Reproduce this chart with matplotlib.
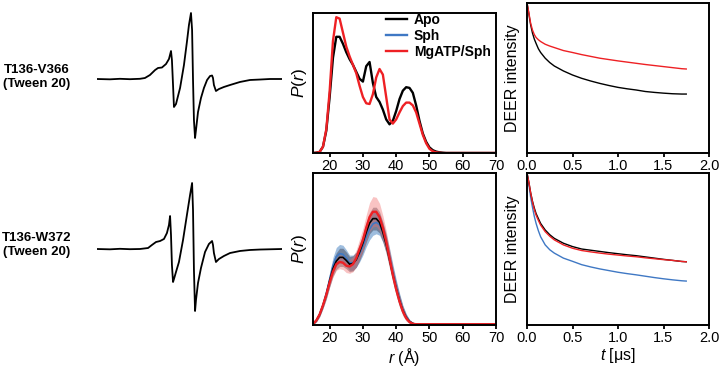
import matplotlib
matplotlib.use('Agg')
from matplotlib import pyplot as plt
import numpy as np

plt.rcParams['font.family'] = ['Liberation Sans', 'DejaVu Sans']
plt.rcParams['mathtext.fontset'] = 'custom'
plt.rcParams['mathtext.rm'] = 'Liberation Sans'
plt.rcParams['mathtext.it'] = 'Liberation Sans:italic'

# ---- CW EPR spectra (field in arbitrary units, derivative intensity) ----
epr_labels = ['T136-V366\n(Tween 20)', 'T136-W372\n(Tween 20)']

epr1_b = [0, 7.0, 12.4, 17.8, 23.2, 25.9, 28.6, 31.4, 33.0, 35.1, 37.3, 38.9, 40.0, 40.5,
          41.1, 41.6, 42.7, 44.9, 47.0, 48.6, 49.7, 50.8, 51.4, 51.9, 52.4, 53.0, 53.5,
          54.6, 56.2, 57.8, 59.5, 61.1, 62.2, 62.7, 63.2, 64.3, 65.9, 68.6, 71.9, 77.3,
          82.7, 88.1, 93.5, 100]
epr1_i = [0, -0.005, 0.003, -0.003, 0.003, 0.015, 0.06, 0.136, 0.167, 0.174, 0.227, 0.303,
          0.424, 0.288, -0.091, -0.424, -0.379, -0.136, 0.212, 0.561, 0.818, 1.0, 0.742,
          -0.015, -0.621, -0.894, -0.773, -0.5, -0.288, -0.136, -0.015, 0.045, 0.053,
          0.015, -0.091, -0.182, -0.152, -0.121, -0.091, -0.045, -0.015, -0.008, 0, 0]

epr2_b = [0, 7.0, 12.4, 17.8, 23.2, 27.6, 29.7, 31.9, 34.1, 36.2, 37.8, 38.9, 39.5, 40.0,
          40.5, 41.1, 41.6, 42.7, 44.3, 46.5, 48.6, 50.3, 51.4, 51.9, 52.4, 53.0, 53.5,
          54.6, 56.2, 58.4, 60.5, 62.2, 62.7, 63.2, 64.3, 65.9, 68.6, 71.9, 77.3, 82.7,
          88.1, 100]
epr2_i = [0, -0.005, 0.003, -0.003, 0, 0.015, 0.061, 0.106, 0.121, 0.152, 0.242, 0.364,
          0.5, 0.212, -0.242, -0.5, -0.455, -0.348, -0.197, 0.136, 0.515, 0.818, 1.0,
          0.591, -0.318, -0.939, -0.773, -0.515, -0.288, -0.045, 0.076, 0.121, 0.061,
          -0.061, -0.197, -0.152, -0.106, -0.061, -0.03, -0.015, -0.008, 0]

# ---- distance distributions P(r) ----
r_top = list(range(15, 56)) + [60, 70]
p_apo_top = [0, 0.002, 0.008, 0.045, 0.16, 0.40, 0.68, 0.83, 0.83, 0.78, 0.72, 0.67, 0.63,
             0.58, 0.53, 0.51, 0.62, 0.65, 0.50, 0.40, 0.365, 0.31, 0.24, 0.205, 0.23, 0.30,
             0.385, 0.445, 0.47, 0.465, 0.43, 0.34, 0.23, 0.14, 0.08, 0.04, 0.02, 0.01,
             0.005, 0.002, 0, 0, 0]
p_mg_top = [0, 0.002, 0.008, 0.045, 0.17, 0.44, 0.80, 0.97, 0.96, 0.86, 0.76, 0.69, 0.63,
            0.57, 0.48, 0.40, 0.355, 0.35, 0.42, 0.54, 0.60, 0.56, 0.40, 0.24, 0.21, 0.24,
            0.29, 0.335, 0.36, 0.36, 0.34, 0.29, 0.21, 0.13, 0.07, 0.03, 0.012, 0.005,
            0.002, 0, 0, 0, 0]

r_bot = list(range(15, 47)) + [50, 60, 70]
p_apo_bot = [0.007, 0.03, 0.07, 0.13, 0.20, 0.29, 0.37, 0.42, 0.445, 0.445, 0.425, 0.40,
             0.405, 0.43, 0.48, 0.54, 0.61, 0.67, 0.70, 0.70, 0.675, 0.61, 0.53, 0.43, 0.33,
             0.24, 0.16, 0.095, 0.05, 0.022, 0.01, 0.005, 0.005, 0.005, 0.005]
p_sph_bot = [0.007, 0.03, 0.07, 0.13, 0.21, 0.30, 0.39, 0.45, 0.47, 0.465, 0.44, 0.41,
             0.41, 0.43, 0.47, 0.52, 0.58, 0.63, 0.665, 0.675, 0.66, 0.61, 0.54, 0.45, 0.35,
             0.255, 0.17, 0.10, 0.055, 0.025, 0.01, 0.005, 0.005, 0.005, 0.005]
p_mg_bot = [0.007, 0.03, 0.07, 0.13, 0.20, 0.28, 0.35, 0.40, 0.415, 0.41, 0.39, 0.385,
            0.40, 0.44, 0.50, 0.56, 0.64, 0.71, 0.745, 0.745, 0.71, 0.64, 0.55, 0.44, 0.33,
            0.235, 0.155, 0.09, 0.045, 0.02, 0.008, 0.005, 0.005, 0.005, 0.005]
# half widths of the uncertainty bands
w_apo_bot = [0.005, 0.01, 0.015, 0.02, 0.03, 0.04, 0.05, 0.055, 0.06, 0.06, 0.055, 0.05,
             0.05, 0.05, 0.055, 0.06, 0.065, 0.07, 0.075, 0.075, 0.07, 0.065, 0.06, 0.055,
             0.05, 0.045, 0.04, 0.03, 0.02, 0.012, 0.008, 0.005, 0.005, 0.005, 0.005]
w_sph_bot = [0.005, 0.01, 0.015, 0.02, 0.03, 0.045, 0.055, 0.06, 0.06, 0.06, 0.055, 0.05,
             0.05, 0.05, 0.055, 0.06, 0.065, 0.07, 0.075, 0.075, 0.07, 0.065, 0.06, 0.055,
             0.05, 0.045, 0.04, 0.03, 0.02, 0.012, 0.008, 0.005, 0.005, 0.005, 0.005]
w_mg_bot = [0.005, 0.01, 0.015, 0.02, 0.025, 0.03, 0.035, 0.04, 0.045, 0.045, 0.045, 0.045,
            0.05, 0.055, 0.065, 0.075, 0.085, 0.095, 0.10, 0.095, 0.09, 0.08, 0.07, 0.06,
            0.05, 0.04, 0.035, 0.03, 0.02, 0.012, 0.008, 0.006, 0.006, 0.006, 0.006]

# ---- DEER traces ----
t = [0, 0.01, 0.02, 0.03, 0.04, 0.06, 0.08, 0.1, 0.125, 0.15, 0.2, 0.25, 0.3, 0.4, 0.5,
     0.6, 0.7, 0.8, 0.9, 1.0, 1.1, 1.2, 1.3, 1.4, 1.5, 1.6, 1.7, 1.75]
v_apo_top = [1.0, 0.965, 0.93, 0.89, 0.855, 0.80, 0.76, 0.73, 0.695, 0.67, 0.632, 0.603,
             0.58, 0.547, 0.52, 0.498, 0.48, 0.464, 0.45, 0.4375, 0.428, 0.42, 0.41, 0.404,
             0.399, 0.395, 0.393, 0.393]
v_mg_top = [1.0, 0.97, 0.935, 0.90, 0.865, 0.82, 0.79, 0.77, 0.755, 0.743, 0.725, 0.713,
            0.703, 0.683, 0.67, 0.656, 0.644, 0.632, 0.623, 0.614, 0.606, 0.598, 0.59,
            0.583, 0.576, 0.569, 0.562, 0.56]
v_apo_bot = [1.0, 0.97, 0.94, 0.905, 0.87, 0.815, 0.77, 0.733, 0.70, 0.668, 0.625, 0.594,
             0.57, 0.538, 0.516, 0.50, 0.492, 0.484, 0.476, 0.469, 0.462, 0.456, 0.448,
             0.44, 0.432, 0.425, 0.418, 0.416]
v_mg_bot = [1.0, 0.97, 0.94, 0.905, 0.87, 0.81, 0.76, 0.722, 0.688, 0.657, 0.614, 0.584,
            0.56, 0.527, 0.505, 0.49, 0.481, 0.473, 0.466, 0.46, 0.454, 0.449, 0.442, 0.436,
            0.43, 0.425, 0.418, 0.416]
v_sph_bot = [1.0, 0.96, 0.925, 0.885, 0.84, 0.775, 0.715, 0.668, 0.62, 0.58, 0.527, 0.495,
             0.473, 0.44, 0.419, 0.397, 0.382, 0.369, 0.358, 0.347, 0.338, 0.33, 0.321,
             0.312, 0.304, 0.297, 0.291, 0.289]

BLACK = '#000000'
BLUE = '#3f78c4'
RED = '#ee2024'

fig = plt.figure(figsize=(7.2, 3.68), dpi=100)

# EPR spectra
ax_e1 = fig.add_axes([97 / 720, 0.5, 185 / 720, 0.5])
ax_e1.plot(epr1_b, epr1_i, color=BLACK, lw=1.3)
ax_e1.set_xlim(0, 100)
ax_e1.set_ylim(-105 / 66, 79 / 66)
ax_e1.axis('off')

ax_e2 = fig.add_axes([97 / 720, 0.0, 185 / 720, 218 / 368])
ax_e2.plot(epr2_b, epr2_i, color=BLACK, lw=1.3)
ax_e2.set_xlim(0, 100)
ax_e2.set_ylim(-119 / 66, 99 / 66)
ax_e2.axis('off')

for lab, yc in zip(epr_labels, [77, 245]):
    fig.text(37 / 720, 1 - yc / 368, lab, ha='center', va='center',
             fontsize=9.5, fontweight='bold', linespacing=1.2)


def style(ax, xlim, xticks, fmt):
    ax.set_xlim(*xlim)
    ax.set_ylim(0, 1)
    ax.set_yticks([])
    ax.set_xticks(xticks)
    ax.set_xticklabels([fmt % x for x in xticks])
    ax.tick_params(axis='x', direction='out', length=3, width=1.3, labelsize=10.5, pad=1.5)
    for s in ax.spines.values():
        s.set_linewidth(1.4)


# P(r) top
ax_p1 = fig.add_axes([313 / 720, 215 / 368, 183 / 720, 140 / 368])
ax_p1.plot(r_top, p_apo_top, color=BLACK, lw=1.7, label='Apo')
ax_p1.plot([], [], color=BLUE, lw=1.7, label='Sph')
ax_p1.plot(r_top, p_mg_top, color=RED, lw=1.7, label='MgATP/Sph')
style(ax_p1, (15, 70), [20, 30, 40, 50, 60, 70], '%d')
ax_p1.set_ylabel(r'$P$($r$)', fontsize=12.5, labelpad=3)
ax_p1.legend(loc='upper left', bbox_to_anchor=(0.40, 1.0), frameon=False,
             borderpad=0, borderaxespad=0, handlelength=1.5, handletextpad=0.5,
             labelspacing=0.15, prop={'weight': 'bold', 'size': 10})

# P(r) bottom
ax_p2 = fig.add_axes([313 / 720, 43 / 368, 183 / 720, 152 / 368])
rb = np.array(r_bot)
for p, w, c, a in [(p_sph_bot, w_sph_bot, '#4f87c4', 0.55),
                   (p_apo_bot, w_apo_bot, '#3c3c4c', 0.45),
                   (p_mg_bot, w_mg_bot, '#f06a6a', 0.4)]:
    p = np.array(p)
    w = np.array(w)
    ax_p2.fill_between(rb, p - w, p + w, color=c, alpha=a, lw=0)
ax_p2.plot(r_bot, p_sph_bot, color=BLUE, lw=1.2)
ax_p2.plot(r_bot, p_apo_bot, color=BLACK, lw=1.2)
ax_p2.plot(r_bot, p_mg_bot, color=RED, lw=1.7)
style(ax_p2, (15, 70), [20, 30, 40, 50, 60, 70], '%d')
ax_p2.set_ylabel(r'$P$($r$)', fontsize=12.5, labelpad=3)
ax_p2.set_xlabel(r'$r$ (Å)', fontsize=11.5, va='top')
ax_p2.xaxis.set_label_coords(0.5, -0.14)

# DEER top
ax_d1 = fig.add_axes([527 / 720, 215 / 368, 182 / 720, 150 / 368])
ax_d1.plot(t, v_apo_top, color=BLACK, lw=1.0)
ax_d1.plot(t, v_mg_top, color=RED, lw=1.0)
style(ax_d1, (0, 2.0), [0, 0.5, 1.0, 1.5, 2.0], '%.1f')
ax_d1.set_ylabel('DEER intensity', fontsize=11.5, labelpad=5)

# DEER bottom
ax_d2 = fig.add_axes([527 / 720, 43 / 368, 182 / 720, 152 / 368])
ax_d2.plot(t, v_sph_bot, color=BLUE, lw=1.0)
ax_d2.plot(t, v_apo_bot, color=BLACK, lw=1.0)
ax_d2.plot(t, v_mg_bot, color=RED, lw=1.0)
style(ax_d2, (0, 2.0), [0, 0.5, 1.0, 1.5, 2.0], '%.1f')
ax_d2.set_ylabel('DEER intensity', fontsize=11.5, labelpad=5)
ax_d2.set_xlabel(r'$t$ [μs]', fontsize=11.5, va='top')
ax_d2.xaxis.set_label_coords(0.5, -0.14)

fig.savefig('out.png', dpi=100)
